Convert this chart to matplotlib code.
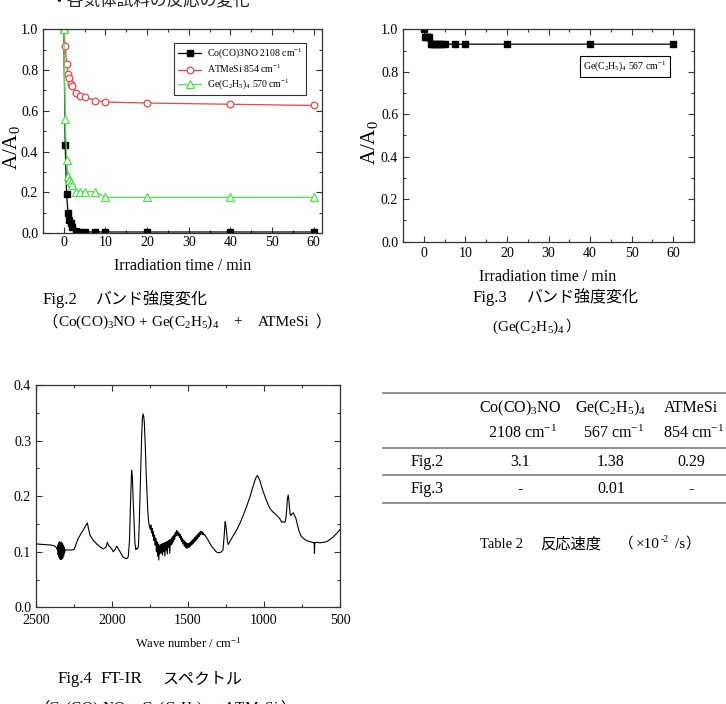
import matplotlib
matplotlib.use('Agg')
import matplotlib.pyplot as plt
from matplotlib.transforms import Affine2D
from matplotlib.lines import Line2D
from matplotlib.ticker import MultipleLocator, FormatStrFormatter

W, H = 726, 704
plt.rcParams['font.family'] = ['Liberation Serif', 'Noto Sans CJK JP']
plt.rcParams['mathtext.fontset'] = 'custom'
plt.rcParams['mathtext.rm'] = 'Liberation Serif'
plt.rcParams['mathtext.it'] = 'Liberation Serif:italic'
plt.rcParams['mathtext.bf'] = 'Liberation Serif:bold'
plt.rcParams['mathtext.default'] = 'regular'
JP = ['Noto Sans CJK JP', 'DejaVu Sans']

# ---------------- data ----------------
time_fig2 = [0, 0.33, 0.67, 1, 1.33, 1.67, 2, 3, 4, 5, 7.5, 10, 20, 40, 60]
co_fig2 = [1.0, 0.43, 0.19, 0.10, 0.065, 0.05, 0.03, 0.008, 0.005, 0.005, 0.005, 0.005, 0.005, 0.005, 0.005]
atmesi_fig2 = [1.0, 0.92, 0.83, 0.78, 0.76, 0.73, 0.72, 0.686, 0.675, 0.668, 0.65, 0.643, 0.638, 0.632, 0.626]
ge_fig2 = [1.0, 0.56, 0.36, 0.278, 0.26, 0.248, 0.237, 0.203, 0.203, 0.203, 0.203, 0.175, 0.175, 0.175, 0.175]
labels_fig2 = ['Co(CO)3NO 2108 cm$^{-1}$', 'ATMeSi 854 cm$^{-1}$', 'Ge(C$_2$H$_5$)$_4$ 570 cm$^{-1}$']

time_fig3 = [0, 0.33, 0.67, 1, 1.33, 1.67, 2, 2.5, 3, 3.5, 4, 4.5, 5, 7.5, 10, 20, 40, 60]
ge_fig3 = [1.0, 0.965, 0.965, 0.965, 0.965, 0.93, 0.93, 0.93, 0.93, 0.93, 0.93, 0.93, 0.93, 0.93, 0.93, 0.93, 0.93, 0.93]
label_fig3 = 'Ge(C$_2$H$_5$)$_4$ 567 cm$^{-1}$'

wavenumber = [2500, 2450, 2400, 2375, 2365, 2360, 2357, 2354, 2351, 2348, 2345, 2342, 2339, 2336, 2333,
              2330, 2327, 2324, 2321, 2318, 2315, 2312, 2308, 2298, 2270, 2250, 2235, 2222, 2205, 2189,
              2175, 2162, 2155, 2145, 2125, 2101, 2080, 2057, 2040, 2031, 2022, 2013, 2000, 1991, 1980,
              1969, 1960, 1947, 1935, 1925, 1910, 1900, 1893, 1885, 1878, 1871, 1866, 1860, 1853, 1849,
              1843, 1838, 1833, 1826, 1820, 1813, 1805, 1800, 1796, 1791, 1787, 1781, 1776, 1770, 1765,
              1760, 1754, 1748, 1744, 1740, 1736, 1732, 1728, 1724, 1720, 1716, 1712, 1708, 1704, 1700,
              1696, 1692, 1688, 1684, 1680, 1676, 1672, 1668, 1664, 1660, 1656, 1652, 1648, 1644, 1640,
              1636, 1632, 1628, 1624, 1620, 1616, 1612, 1608, 1604, 1600, 1596, 1592, 1588, 1584, 1580,
              1576, 1572, 1568, 1564, 1560, 1556, 1552, 1548, 1544, 1540, 1536, 1532, 1528, 1524, 1520,
              1516, 1512, 1508, 1504, 1500, 1496, 1492, 1488, 1484, 1480, 1476, 1472, 1468, 1464, 1460,
              1456, 1452, 1448, 1444, 1440, 1436, 1432, 1428, 1424, 1420, 1416, 1412, 1408, 1404, 1400,
              1395, 1390, 1380, 1370, 1360, 1350, 1333, 1315, 1300, 1285, 1270, 1263, 1256, 1252, 1246,
              1240, 1235, 1225, 1213, 1195, 1180, 1160, 1136, 1115, 1092, 1075, 1059, 1050, 1044, 1036,
              1026, 1010, 993, 975, 961, 940, 917, 895, 883, 873, 862, 856, 851, 846, 841,
              837, 833, 828, 824, 816, 808, 800, 790, 780, 768, 755, 741, 720, 697, 680,
              672, 670, 668, 666, 650, 632, 610, 588, 565, 544, 530, 515, 500]
absorbance = [0.114, 0.113, 0.112, 0.110, 0.107, 0.104, 0.112, 0.094, 0.116, 0.090, 0.118, 0.087, 0.117, 0.086, 0.117,
              0.087, 0.115, 0.089, 0.112, 0.093, 0.108, 0.098, 0.104, 0.103, 0.103, 0.104, 0.115, 0.124, 0.132, 0.139,
              0.146, 0.152, 0.142, 0.130, 0.121, 0.114, 0.109, 0.105, 0.108, 0.117, 0.111, 0.109, 0.104, 0.100, 0.104,
              0.110, 0.106, 0.100, 0.094, 0.090, 0.088, 0.088, 0.091, 0.120, 0.190, 0.247, 0.235, 0.187, 0.140, 0.115,
              0.104, 0.106, 0.105, 0.110, 0.157, 0.230, 0.307, 0.340, 0.348, 0.343, 0.331, 0.290, 0.247, 0.205, 0.175,
              0.156, 0.146, 0.140, 0.148, 0.134, 0.142, 0.128, 0.136, 0.120, 0.130, 0.112, 0.124, 0.100, 0.118, 0.092,
              0.114, 0.085, 0.112, 0.096, 0.113, 0.098, 0.114, 0.094, 0.115, 0.100, 0.116, 0.092, 0.117, 0.102, 0.118,
              0.096, 0.119, 0.108, 0.121, 0.097, 0.122, 0.112, 0.125, 0.114, 0.127, 0.118, 0.130, 0.122, 0.134, 0.128,
              0.138, 0.130, 0.137, 0.129, 0.134, 0.126, 0.131, 0.122, 0.128, 0.118, 0.124, 0.114, 0.121, 0.110, 0.118,
              0.108, 0.116, 0.106, 0.115, 0.107, 0.115, 0.108, 0.116, 0.110, 0.118, 0.112, 0.121, 0.114, 0.123, 0.117,
              0.126, 0.119, 0.127, 0.121, 0.130, 0.124, 0.133, 0.127, 0.135, 0.130, 0.137, 0.132, 0.136, 0.131, 0.134,
              0.130, 0.131, 0.126, 0.122, 0.117, 0.112, 0.106, 0.100, 0.098, 0.099, 0.103, 0.125, 0.154, 0.150, 0.135,
              0.118, 0.113, 0.118, 0.124, 0.132, 0.139, 0.150, 0.166, 0.181, 0.199, 0.215, 0.229, 0.235, 0.237, 0.234,
              0.227, 0.212, 0.199, 0.186, 0.178, 0.171, 0.166, 0.159, 0.153, 0.154, 0.153, 0.160, 0.175, 0.195, 0.202,
              0.195, 0.181, 0.168, 0.165, 0.168, 0.170, 0.166, 0.160, 0.148, 0.136, 0.128, 0.124, 0.120, 0.118, 0.117,
              0.116, 0.116, 0.097, 0.116, 0.117, 0.116, 0.117, 0.118, 0.122, 0.127, 0.131, 0.135, 0.140]

table_cols = ['Co(CO)$_3$NO', 'Ge(C$_2$H$_5$)$_4$', 'ATMeSi']
table_bands = ['2108 cm$^{-1}$', '567 cm$^{-1}$', '854 cm$^{-1}$']
table_rows = ['Fig.2', 'Fig.3']
table_vals = [['3.1', '1.38', '0.29'], ['-', '0.01', '-']]

# ---------------- figure ----------------
fig = plt.figure(figsize=(W / 100, H / 100), dpi=100)
tr = Affine2D().scale(1, -1).translate(0, H)   # pixel coords, y downward
renderer = fig.canvas.get_renderer()


def add_ax(x0, y0, x1, y1):
    return fig.add_axes([x0 / W, 1 - y1 / H, (x1 - x0) / W, (y1 - y0) / H])


def T(x, y, s, size, ha='left', va='center', family=None, **kw):
    kw2 = dict(transform=tr, fontsize=size, ha=ha, va=va)
    if family is not None:
        kw2['family'] = family
    kw2.update(kw)
    return fig.text(x, y, s, **kw2)


def seq(x, y, pieces):
    """pieces: (text, size, family, gap_before)"""
    for s, size, fam, gap in pieces:
        x += gap
        t = T(x, y, s, size, family=fam)
        x += t.get_window_extent(renderer=renderer).width
    return x


def style(ax, size=9, xpad=3, ypad=3):
    for s in ax.spines.values():
        s.set_linewidth(0.9)
        s.set_color('#333333')
    ax.tick_params(which='both', direction='in', top=True, right=True, color='#333333', labelsize=size)
    ax.tick_params(which='major', length=4.5, width=0.8)
    ax.tick_params(which='minor', length=2.5, width=0.8)
    ax.tick_params(axis='x', pad=xpad)
    ax.tick_params(axis='y', pad=ypad)


# top heading (cut off at the top edge, as in the reference)
T(50, 1, '・各気体試料の反応の変化', 12, family=JP, color='#222222')

# ---- Fig.2 ----
ax2 = add_ax(43, 29.3, 322, 233)
ax2.plot(time_fig2, co_fig2, '-s', color='black', ms=4.3, lw=0.9, label=labels_fig2[0])
ax2.plot(time_fig2, atmesi_fig2, '-o', color='#ee4444', mfc='white', mec='#ee4444', ms=4.8, mew=0.9,
         lw=0.9, label=labels_fig2[1])
ax2.plot(time_fig2, ge_fig2, '-^', color='#4ee44e', mfc='white', mec='#4ee44e', ms=5.2, mew=0.9,
         lw=0.9, label=labels_fig2[2])
ax2.set_xlim(-5, 62)
ax2.set_ylim(0, 1.0)
ax2.xaxis.set_major_locator(MultipleLocator(10))
ax2.xaxis.set_minor_locator(MultipleLocator(5))
ax2.yaxis.set_major_locator(MultipleLocator(0.2))
ax2.yaxis.set_minor_locator(MultipleLocator(0.1))
ax2.yaxis.set_major_formatter(FormatStrFormatter('%.1f'))
style(ax2, size=10, xpad=2.5, ypad=3.5)
leg = ax2.legend(loc='upper right', bbox_to_anchor=(306, 43), bbox_transform=tr, fontsize=7,
                 frameon=True, fancybox=False, edgecolor='black', handlelength=2.4,
                 borderpad=0.35, labelspacing=0.25, handletextpad=0.6, borderaxespad=0)
leg.get_frame().set_linewidth(0.8)
T(12, 148, 'A/A$_0$', 15, ha='center', rotation=90)
T(183, 266, 'Irradiation time / min', 11.5, ha='center')

# ---- Fig.3 ----
ax3 = add_ax(403, 29.3, 694, 241.7)
ax3.plot(time_fig3, ge_fig3, '-s', color='black', ms=3.8, lw=0.9)
ax3.set_xlim(-5, 65)
ax3.set_ylim(0, 1.0)
ax3.xaxis.set_major_locator(MultipleLocator(10))
ax3.xaxis.set_minor_locator(MultipleLocator(5))
ax3.yaxis.set_major_locator(MultipleLocator(0.2))
ax3.yaxis.set_minor_locator(MultipleLocator(0.1))
ax3.yaxis.set_major_formatter(FormatStrFormatter('%.1f'))
style(ax3, size=10, xpad=4, ypad=3.5)
ax3.text(625, 66.5, label_fig3, transform=tr, fontsize=7, ha='center', va='center',
         bbox=dict(boxstyle='square,pad=0.35', fc='white', ec='black', lw=0.8))
T(369, 143, 'A/A$_0$', 15, ha='center', rotation=90)
T(548, 277, 'Irradiation time / min', 11.5, ha='center')

# ---- captions Fig.2 / Fig.3 ----
T(43, 300, 'Fig.2', 12)
T(96, 300, 'バンド強度変化', 11.5, family=JP)
T(42, 322, '（', 11, family=JP)
T(58, 322, 'Co(CO)$_3$NO + Ge(C$_2$H$_5$)$_4$', 11)
T(233, 322, '+', 11)
T(258, 322, 'ATMeSi', 11)
T(315, 322, '）', 11, family=JP)

T(473, 298, 'Fig.3', 12)
T(527, 298, 'バンド強度変化', 11.5, family=JP)
seq(492, 327, [('(Ge(C$_2$H$_5$)$_4$', 11, None, 0), ('）', 10.5, JP, 0)])

# ---- Fig.4 ----
ax4 = add_ax(36, 385, 340, 607.3)
ax4.plot(wavenumber, absorbance, color='black', lw=0.8)
ax4.set_xlim(2500, 500)
ax4.set_ylim(0, 0.4)
ax4.xaxis.set_major_locator(MultipleLocator(500))
ax4.xaxis.set_minor_locator(MultipleLocator(250))
ax4.yaxis.set_major_locator(MultipleLocator(0.1))
ax4.yaxis.set_minor_locator(MultipleLocator(0.05))
ax4.yaxis.set_major_formatter(FormatStrFormatter('%.1f'))
style(ax4, size=10, xpad=5, ypad=3.5)
T(188, 643, 'Wave number / cm$^{-1}$', 9, ha='center')

T(58, 679, 'Fig.4', 12)
T(100, 679, 'FT-IR', 12.5)
T(162, 679, 'スペクトル', 11.5, family=JP)
seq(34, 708, [('（', 11, JP, 0), ('Co(CO)$_3$NO + Ge(C$_2$H$_5$)$_4$ + ATMeSi', 11, None, -1),
              ('）', 11, JP, 1)])

# ---- Table ----
for yy in [392.7, 447.7, 475, 502.7]:
    fig.add_artist(Line2D([383, 726], [yy, yy], transform=tr, color='#888888', lw=1.3))
col_x = [520, 611, 691]
row_x = 427
for cx, name, band in zip(col_x, table_cols, table_bands):
    T(cx, 408, name, 11.5, ha='center')
    T(cx + 2, 433, band, 11.5, ha='center')
for ry, rname, vals in zip([461.7, 489], table_rows, table_vals):
    T(row_x, ry, rname, 11.5, ha='center')
    for cx, v in zip(col_x, vals):
        T(cx, ry, v, 11.5, ha='center')

T(480, 544, 'Table 2', 10.5)
T(540, 544, '反応速度', 11, family=JP)
T(619, 544, '（', 10.5, family=JP)
T(636, 544, '×10', 11)
T(661, 539, '-2', 7)
T(675, 544, '/s', 11)
T(685, 544, '）', 10.5, family=JP)

fig.savefig('out.png', dpi=100)
